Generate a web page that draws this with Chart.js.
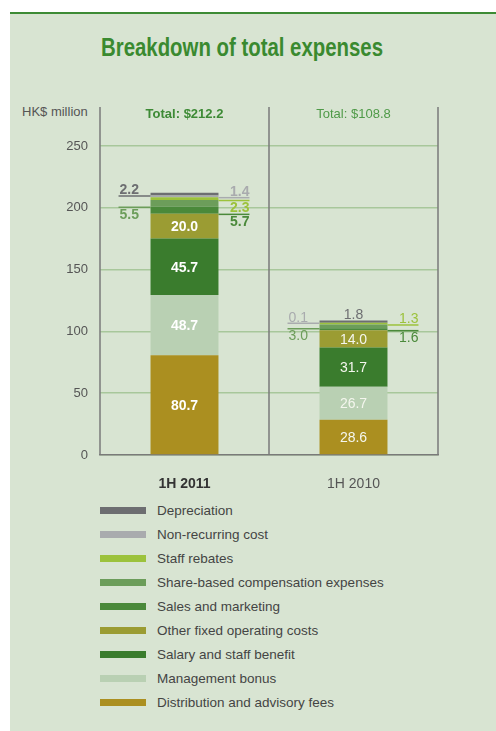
<!DOCTYPE html>
<html><head><meta charset="utf-8">
<script src="https://cdn.jsdelivr.net/npm/chart.js@4.4.1/dist/chart.umd.min.js"></script>
<style>
html,body{margin:0;padding:0;background:#fff;width:496px;height:731px;overflow:hidden;font-family:"Liberation Sans",Arial,sans-serif;}
#panel{position:absolute;left:10px;top:12px;width:486px;height:719px;background:#d8e4d2;border-top:2px solid #3d8b35;box-sizing:border-box;}
#title{position:absolute;left:101px;top:31px;font-weight:bold;font-size:26px;color:#3a8a30;white-space:nowrap;transform-origin:0 0;line-height:32px;}
#unit{position:absolute;left:22px;top:104px;font-size:13px;color:#555;white-space:nowrap;}
#wrap{position:absolute;left:0;top:0;}
#legend{position:absolute;left:100px;top:498px;}
.row{height:24px;display:flex;align-items:center;}
.sw{width:46px;height:7px;margin-right:11px;}
.lt{font-size:13.5px;color:#444;white-space:nowrap;}
</style></head>
<body>
<div id="panel"></div>
<div id="title">Breakdown of total expenses</div>
<div id="unit">HK$ million</div>
<div id="wrap"><canvas id="c" width="496" height="495"></canvas></div>
<div id="legend"></div>
<script>
const categories = ['1H 2011', '1H 2010'];
const seriesNames = ['Distribution and advisory fees','Management bonus','Salary and staff benefit','Other fixed operating costs','Sales and marketing','Share-based compensation expenses','Staff rebates','Non-recurring cost','Depreciation'];
const distribution = [80.7, 28.6];
const managementBonus = [48.7, 26.7];
const salary = [45.7, 31.7];
const otherFixed = [20.0, 14.0];
const salesMarketing = [5.7, 1.6];
const shareBased = [5.5, 3.0];
const staffRebates = [2.3, 1.3];
const nonRecurring = [1.4, 0.1];
const depreciation = [2.2, 1.8];
const yTicks = [0, 50, 100, 150, 200, 250];

const seriesValues = [distribution, managementBonus, salary, otherFixed, salesMarketing, shareBased, staffRebates, nonRecurring, depreciation];
const colors = ['#ab8f20','#b9d0b3','#3a7c2d','#9b9c33','#4a893a','#6c9d5a','#9cc23c','#a9abae','#6d6e71'];

// label placement for small segments: per dataset index, per category
const outside = {
  4: [{side:'right',pos:'below'},{side:'right',pos:'below'}],
  5: [{side:'left',pos:'below'},{side:'left',pos:'below'}],
  6: [{side:'right',pos:'below'},{side:'right',pos:'above'}],
  7: [{side:'right',pos:'above'},{side:'left',pos:'above'}],
  8: [{side:'left',pos:'above'},{side:'top'}]
};

const FONT = '"Liberation Sans", Arial, sans-serif';

const decor = {
  id:'decor',
  beforeDatasetsDraw(chart){
    const {ctx, chartArea:a, scales:{x}} = chart;
    const p0 = x.getPixelForValue(0), p1 = x.getPixelForValue(1);
    const xs = [a.left, (p0+p1)/2, a.right];
    ctx.save();
    ctx.strokeStyle = '#7a7a7a'; ctx.lineWidth = 1.5;
    xs.forEach(px=>{ctx.beginPath();ctx.moveTo(px,107);ctx.lineTo(px,a.bottom);ctx.stroke();});
    ctx.textAlign='center'; ctx.textBaseline='middle';
    categories.forEach((c,i)=>{
      const tot = seriesValues.reduce((s,arr)=>s+arr[i],0);
      ctx.font = (i===0?'bold ':'')+'13px '+FONT;
      ctx.fillStyle = i===0?'#3d8a35':'#4f9a48';
      ctx.fillText('Total: $'+tot.toFixed(1), x.getPixelForValue(i), 114);
    });
    ctx.restore();
  },
  afterDatasetsDraw(chart){
    const ctx = chart.ctx;
    ctx.save();
    chart.data.datasets.forEach((ds,di)=>{
      const meta = chart.getDatasetMeta(di);
      meta.data.forEach((bar,ci)=>{
        const v = ds.data[ci];
        const txt = v.toFixed(1);
        const bold = ci===0;
        ctx.font = (bold?'bold ':'')+'14px '+FONT;
        const left = bar.x - bar.width/2, right = bar.x + bar.width/2;
        if(di<4){
          ctx.fillStyle = ci===0?'#ffffff':'#f4f6ee';
          ctx.textAlign='center'; ctx.textBaseline='middle';
          ctx.fillText(txt, bar.x, (bar.y+bar.base)/2+1);
          return;
        }
        const o = outside[di][ci];
        ctx.fillStyle = ds.backgroundColor;
        ctx.strokeStyle = ds.backgroundColor;
        ctx.lineWidth = 1.5;
        ctx.textBaseline='alphabetic';
        if(o.side==='top'){
          ctx.textAlign='center';
          ctx.fillText(txt, bar.x, bar.y-1.5);
          return;
        }
        const ly = bar.base + 0.5;
        let x0,x1,tx;
        if(o.side==='left'){x0=left-32;x1=left;tx=left-31;ctx.textAlign='left';}
        else {x0=right;x1=right+31;tx=right+31;ctx.textAlign='right';}
        ctx.beginPath();ctx.moveTo(x0,ly);ctx.lineTo(x1,ly);ctx.stroke();
        const ty = o.pos==='above'? ly-1.5 : ly+11.5;
        ctx.fillText(txt, tx, ty);
      });
    });
    ctx.restore();
  }
};

const chart = new Chart(document.getElementById('c'), {
  type:'bar',
  data:{
    labels: categories,
    datasets: seriesNames.map((n,i)=>({label:n, data:seriesValues[i], backgroundColor:colors[i], borderWidth:0, barPercentage:0.402, categoryPercentage:1}))
  },
  options:{
    responsive:false, animation:false,
    layout:{padding:{left:0,right:58,top:146,bottom:0}},
    plugins:{legend:{display:false}, tooltip:{enabled:false}, title:{display:false}},
    scales:{
      x:{stacked:true,
        grid:{display:false},
        border:{display:true,color:'#7a7a7a',width:1.5},
        ticks:{padding:13,
          font:c=>({family:FONT,size:14,weight:c.index===0?'bold':'normal'}),
          color:c=>c.index===0?'#333333':'#555555'},
        afterFit(s){s.height=40;}
      },
      y:{stacked:true,min:0,max:250,
        grid:{color:'#a8c79b',lineWidth:1.5,drawTicks:false},
        border:{display:false},
        ticks:{stepSize:50,padding:12,color:'#555',font:{family:FONT,size:13}},
        afterBuildTicks(s){s.ticks = yTicks.map(v=>({value:v}));},
        afterFit(s){s.width=100;}
      }
    }
  },
  plugins:[decor]
});

const lg = document.getElementById('legend');
chart.data.datasets.slice().reverse().forEach(ds=>{
  const r = document.createElement('div'); r.className='row';
  r.innerHTML = '<div class="sw" style="background:'+ds.backgroundColor+'"></div><div class="lt"></div>';
  r.querySelector('.lt').textContent = ds.label;
  lg.appendChild(r);
});
const t = document.getElementById('title');
const w = t.getBoundingClientRect().width;
t.style.transform = 'scaleX('+(282/w)+')';
</script>
</body></html>
